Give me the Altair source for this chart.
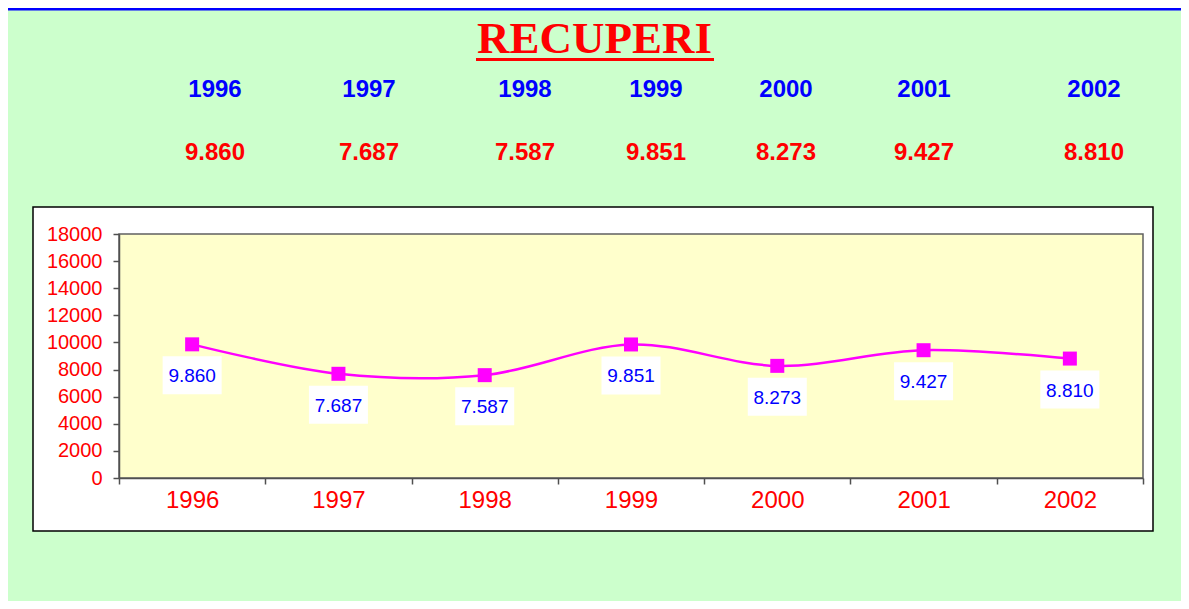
import altair as alt
import pandas as pd

# ---- data ----
years = ["1996", "1997", "1998", "1999", "2000", "2001", "2002"]
values = [9860, 7687, 7587, 9851, 8273, 9427, 8810]
y_ticks = [0, 2000, 4000, 6000, 8000, 10000, 12000, 14000, 16000, 18000]
title_text = "RECUPERI"

# ---- layout (pixels, relative to plot-area origin) ----
header_x = [96, 250, 406, 537, 667, 805, 975]

labels = [f"{v:,}".replace(",", ".") for v in values]
df = pd.DataFrame({"year": years, "value": values, "label": labels, "hx": header_x})
one = pd.DataFrame({"a": [0]})

FONT = "Liberation Sans"
base = alt.Chart(df)
deco = alt.Chart(one)

# decorations
blue_line = deco.mark_rule(color="#0000FF", strokeWidth=3).encode(
    x=alt.value(-111), x2=alt.value(1062), y=alt.value(-225))
chart_box = deco.mark_rect(fill="white", stroke="black", strokeWidth=1.5).encode(
    x=alt.value(-86), x2=alt.value(1034), y=alt.value(-27), y2=alt.value(297))
plot_box = deco.mark_rect(fill="#FFFFCC", stroke="#606060", strokeWidth=1.5).encode(
    x=alt.value(0), x2=alt.value(1024), y=alt.value(0), y2=alt.value(244))
title = deco.mark_text(text=title_text, font="Liberation Serif", fontWeight="bold",
                       fontSize=45, color="#FF0000", baseline="alphabetic",
                       align="center").encode(x=alt.value(475.5), y=alt.value(-181))
underline = deco.mark_rule(color="#FF0000", strokeWidth=3).encode(
    x=alt.value(357), x2=alt.value(595), y=alt.value(-174.5))

hdr_years = base.mark_text(font=FONT, fontWeight="bold", fontSize=24, color="#0000FF",
                           baseline="alphabetic").encode(
    x=alt.X("hx:Q", scale=None, axis=None), y=alt.value(-137), text="year:N")
hdr_vals = base.mark_text(font=FONT, fontWeight="bold", fontSize=24, color="#FF0000",
                          baseline="alphabetic").encode(
    x=alt.X("hx:Q", scale=None, axis=None), y=alt.value(-74), text="label:N")

xenc = alt.X("year:N", sort=years, title=None,
             scale=alt.Scale(paddingInner=0, paddingOuter=0),
             axis=alt.Axis(labelAngle=0, labelColor="#FF0000", labelFontSize=24,
                           labelFont=FONT, tickBand="extent", tickSize=6,
                           tickColor="#505050", domainColor="#505050",
                           domainWidth=1.5, tickWidth=1.5, labelPadding=4, zindex=2))
yenc = alt.Y("value:Q", title=None,
             scale=alt.Scale(domain=[0, 18000], nice=False),
             axis=alt.Axis(values=y_ticks, format="d", labelColor="#FF0000",
                           labelFontSize=20, labelFont=FONT, tickSize=6,
                           tickColor="#505050", domainColor="#505050",
                           domainWidth=1.5, tickWidth=1.5,
                           grid=False, labelPadding=11, zindex=2))

line = base.mark_line(color="#FF00FF", strokeWidth=2.5, interpolate="cardinal").encode(
    x=xenc, y=yenc)
pts = base.mark_point(shape="square", filled=True, size=196, color="#FF00FF",
                      opacity=1).encode(x=xenc, y=yenc)
boxes = base.mark_point(shape="M-1,-0.644L1,-0.644L1,0.644L-1,0.644Z", filled=True,
                        size=3481, color="white", opacity=1, yOffset=31).encode(
    x=xenc, y=yenc)
txt = base.mark_text(font=FONT, fontSize=19, color="#0000FF", dy=32,
                     baseline="middle").encode(x=xenc, y=yenc, text="label:N")

series = alt.layer(line, boxes, txt, pts)

chart = alt.layer(
    blue_line, chart_box, plot_box, title, underline, hdr_years, hdr_vals, series
).resolve_scale(x="independent").properties(
    width=1024, height=244,
    padding={"left": 111, "top": 226, "right": 38, "bottom": 123},
    autosize=alt.AutoSizeParams(type="none"),
    background="#CCFFCC",
).configure_view(stroke=None, fill=None)

chart.save("out.html", embed_options={"renderer": "svg", "actions": False})
